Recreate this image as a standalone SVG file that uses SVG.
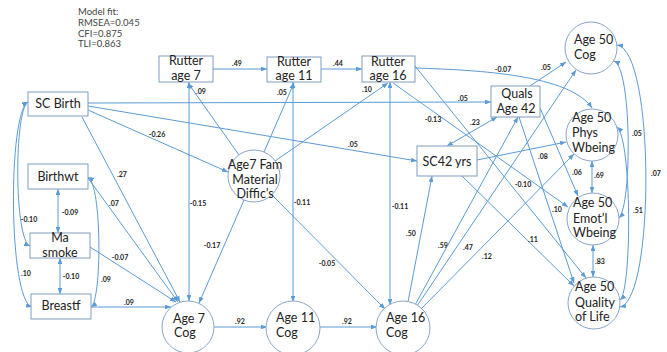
<svg xmlns="http://www.w3.org/2000/svg" width="667" height="352" viewBox="0 0 667 352">
<style>
.bx{fill:#fff;stroke:#7F9DBF;stroke-width:1}
.ci{fill:#fff;stroke:#8AA6C8;stroke-width:1}
.t{font-family:Lato,"Liberation Sans",sans-serif;font-size:12.5px;fill:#222}
.m{text-anchor:middle}
.c path,.c line{fill:none;stroke:#5B9BD5;stroke-width:1}
.e{marker-end:url(#ah)}
.d{marker-start:url(#ah);marker-end:url(#ah)}
.l{font-family:Lato,"Liberation Sans",sans-serif;font-size:7px;font-weight:bold;fill:#222;text-anchor:middle}
.fit{font-family:Lato,"Liberation Sans",sans-serif;font-size:9.5px;fill:#444}
</style>
<defs>
<marker id="ah" viewBox="0 0 10 8" refX="10" refY="4" markerWidth="6" markerHeight="4.8" markerUnits="userSpaceOnUse" orient="auto-start-reverse"><path d="M0,0 L10,4 L0,8 z" fill="#5B9BD5"/></marker>
</defs>
<rect width="667" height="352" fill="#fff"/>
<g id="model-fit">
<text class="fit" x="78" y="15">Model fit:</text>
<text class="fit" x="78" y="26">RMSEA=0.045</text>
<text class="fit" x="78" y="37">CFI=0.875</text>
<text class="fit" x="78" y="47">TLI=0.863</text>
</g>
<g id="connectors" class="c">
<line class="e" x1="213" y1="69" x2="267" y2="69"/>
<line class="e" x1="321" y1="69" x2="362" y2="69"/>
<line class="e" x1="239" y1="155" x2="188" y2="83"/>
<line class="e" x1="264" y1="152" x2="294" y2="83"/>
<line class="e" x1="275" y1="161" x2="388" y2="83"/>
<line class="e" x1="88" y1="110" x2="228" y2="172"/>
<line class="e" x1="88" y1="103" x2="491" y2="102"/>
<line class="e" x1="88" y1="106" x2="417" y2="161"/>
<line class="e" x1="82" y1="117" x2="180" y2="302"/>
<line class="e" x1="88" y1="178" x2="178" y2="302"/>
<line class="e" x1="90" y1="247" x2="176" y2="302"/>
<line class="e" x1="91" y1="307" x2="171" y2="307"/>
<line class="d" x1="58" y1="189" x2="58" y2="233"/>
<line class="d" x1="60" y1="258" x2="60" y2="294"/>
<path class="d" d="M28,102 C14,110 14,240 30,246"/>
<path class="d" d="M28,102 C8,112 8,300 32,307"/>
<path class="d" d="M88,177 C102,185 102,300 91,307"/>
<line class="d" x1="189" y1="82" x2="189" y2="301"/>
<line class="d" x1="293" y1="82" x2="293" y2="302"/>
<line class="d" x1="390" y1="82" x2="390" y2="305"/>
<line class="e" x1="244" y1="200" x2="199" y2="303"/>
<line class="e" x1="272" y1="195" x2="385" y2="309"/>
<line class="e" x1="214" y1="327" x2="267" y2="327"/>
<line class="e" x1="319" y1="327" x2="377" y2="327"/>
<line class="e" x1="408" y1="302" x2="432" y2="176"/>
<line class="e" x1="415" y1="305" x2="518" y2="117"/>
<line class="e" x1="417" y1="306" x2="576" y2="70"/>
<line class="e" x1="421" y1="309" x2="574" y2="154"/>
<line class="d" x1="447" y1="146" x2="497" y2="117"/>
<line class="e" x1="530" y1="86" x2="566" y2="62"/>
<path class="e" d="M415,68 C480,70 570,75 592,108"/>
<line class="e" x1="477" y1="160" x2="566" y2="142"/>
<line class="e" x1="540" y1="108" x2="578" y2="196"/>
<line class="e" x1="519" y1="117" x2="574" y2="283"/>
<line class="e" x1="393" y1="83" x2="568" y2="207"/>
<line class="e" x1="415" y1="66" x2="586" y2="278"/>
<line class="e" x1="462" y1="176" x2="574" y2="286"/>
<line class="d" x1="592" y1="161" x2="592" y2="193"/>
<line class="d" x1="593" y1="245" x2="593" y2="277"/>
<path class="d" d="M614,61 C632,68 632,205 619,218"/>
<path class="d" d="M617,127 C632,140 632,290 620,300"/>
<path class="d" d="M617,45 C655,50 655,300 620,307"/>
</g>
<g id="edge-labels">
<text class="l" x="237" y="66">.49</text>
<text class="l" x="338" y="66">.44</text>
<text class="l" x="201" y="94">.09</text>
<text class="l" x="282" y="95">.05</text>
<text class="l" x="367" y="92">.10</text>
<text class="l" x="157" y="137">-0.26</text>
<text class="l" x="463" y="101">.05</text>
<text class="l" x="353" y="147">.05</text>
<text class="l" x="122" y="177">.27</text>
<text class="l" x="114" y="206">.07</text>
<text class="l" x="120" y="260">-0.07</text>
<text class="l" x="129" y="305">.09</text>
<text class="l" x="70" y="215">-0.09</text>
<text class="l" x="71" y="279">-0.10</text>
<text class="l" x="29" y="222">-0.10</text>
<text class="l" x="26" y="276">.10</text>
<text class="l" x="106" y="282">.09</text>
<text class="l" x="198" y="206">-0.15</text>
<text class="l" x="302" y="205">-0.11</text>
<text class="l" x="400" y="209">-0.11</text>
<text class="l" x="212" y="248">-0.17</text>
<text class="l" x="327" y="266">-0.05</text>
<text class="l" x="240" y="324">.92</text>
<text class="l" x="347" y="324">.92</text>
<text class="l" x="411" y="236">.50</text>
<text class="l" x="443" y="248">.59</text>
<text class="l" x="468" y="250">.47</text>
<text class="l" x="487" y="259">.12</text>
<text class="l" x="475" y="125">.23</text>
<text class="l" x="546" y="70">.05</text>
<text class="l" x="503" y="72">-0.07</text>
<text class="l" x="543" y="159">.08</text>
<text class="l" x="577" y="175">.06</text>
<text class="l" x="557" y="212">.10</text>
<text class="l" x="433" y="122">-0.13</text>
<text class="l" x="523" y="187">-0.10</text>
<text class="l" x="533" y="242">.11</text>
<text class="l" x="599" y="178">.69</text>
<text class="l" x="600" y="264">.83</text>
<text class="l" x="637" y="136">.05</text>
<text class="l" x="638" y="213">.51</text>
<text class="l" x="656" y="176">.07</text>
</g>
<g id="sc-birth"><rect class="bx" x="28" y="92" width="60" height="24"/><text class="t m" x="58" y="108">SC Birth</text></g>
<g id="birthwt"><rect class="bx" x="28" y="164" width="60" height="25"/><text class="t m" x="58" y="181">Birthwt</text></g>
<g id="ma-smoke"><rect class="bx" x="30" y="233" width="60" height="25"/><text class="t m" x="60" y="242">Ma</text><text class="t m" x="60" y="257">smoke</text></g>
<g id="breastf"><rect class="bx" x="31" y="294" width="60" height="25"/><text class="t m" x="61" y="310">Breastf</text></g>
<g id="rutter7"><rect class="bx" x="159" y="56" width="54" height="26"/><text class="t m" x="186" y="65">Rutter</text><text class="t m" x="186" y="80">age 7</text></g>
<g id="rutter11"><rect class="bx" x="267" y="57" width="54" height="25"/><text class="t m" x="294" y="66">Rutter</text><text class="t m" x="294" y="80">age 11</text></g>
<g id="rutter16"><rect class="bx" x="362" y="56" width="53" height="26"/><text class="t m" x="388" y="66">Rutter</text><text class="t m" x="388" y="80">age 16</text></g>
<g id="quals42"><rect class="bx" x="491" y="86" width="49" height="31"/><text class="t m" x="517" y="98">Quals</text><text class="t m" x="516" y="113">Age 42</text></g>
<g id="sc42"><rect class="bx" x="417" y="146" width="60" height="30"/><text class="t m" x="447" y="166">SC42 yrs</text></g>
<g id="fam7"><circle class="ci" cx="254" cy="176" r="26"/><text class="t m" x="255" y="169">Age7 Fam</text><text class="t m" x="255" y="184">Material</text><text class="t m" x="255" y="198">Diffic’s</text></g>
<g id="cog7"><circle class="ci" cx="188" cy="327" r="26"/><text class="t" x="173" y="323">Age 7</text><text class="t" x="174" y="337">Cog</text></g>
<g id="cog11"><circle class="ci" cx="293" cy="328" r="27"/><text class="t" x="276" y="322">Age 11</text><text class="t" x="276" y="337">Cog</text></g>
<g id="cog16"><circle class="ci" cx="403" cy="328" r="27"/><text class="t" x="386" y="322">Age 16</text><text class="t" x="386" y="337">Cog</text></g>
<g id="cog50"><circle class="ci" cx="591" cy="48" r="26"/><text class="t" x="574" y="44">Age 50</text><text class="t" x="574" y="59">Cog</text></g>
<g id="phys50"><circle class="ci" cx="592" cy="135" r="26"/><text class="t" x="572" y="122">Age 50</text><text class="t" x="572" y="137">Phys</text><text class="t" x="572" y="152">Wbeing</text></g>
<g id="emot50"><circle class="ci" cx="593" cy="219" r="26"/><text class="t" x="573" y="207">Age 50</text><text class="t" x="573" y="223">Emot’l</text><text class="t" x="573" y="237">Wbeing</text></g>
<g id="qol50"><circle class="ci" cx="594" cy="303" r="26"/><text class="t" x="575" y="291">Age 50</text><text class="t" x="575" y="307">Quality</text><text class="t" x="575" y="321">of Life</text></g>
</svg>
